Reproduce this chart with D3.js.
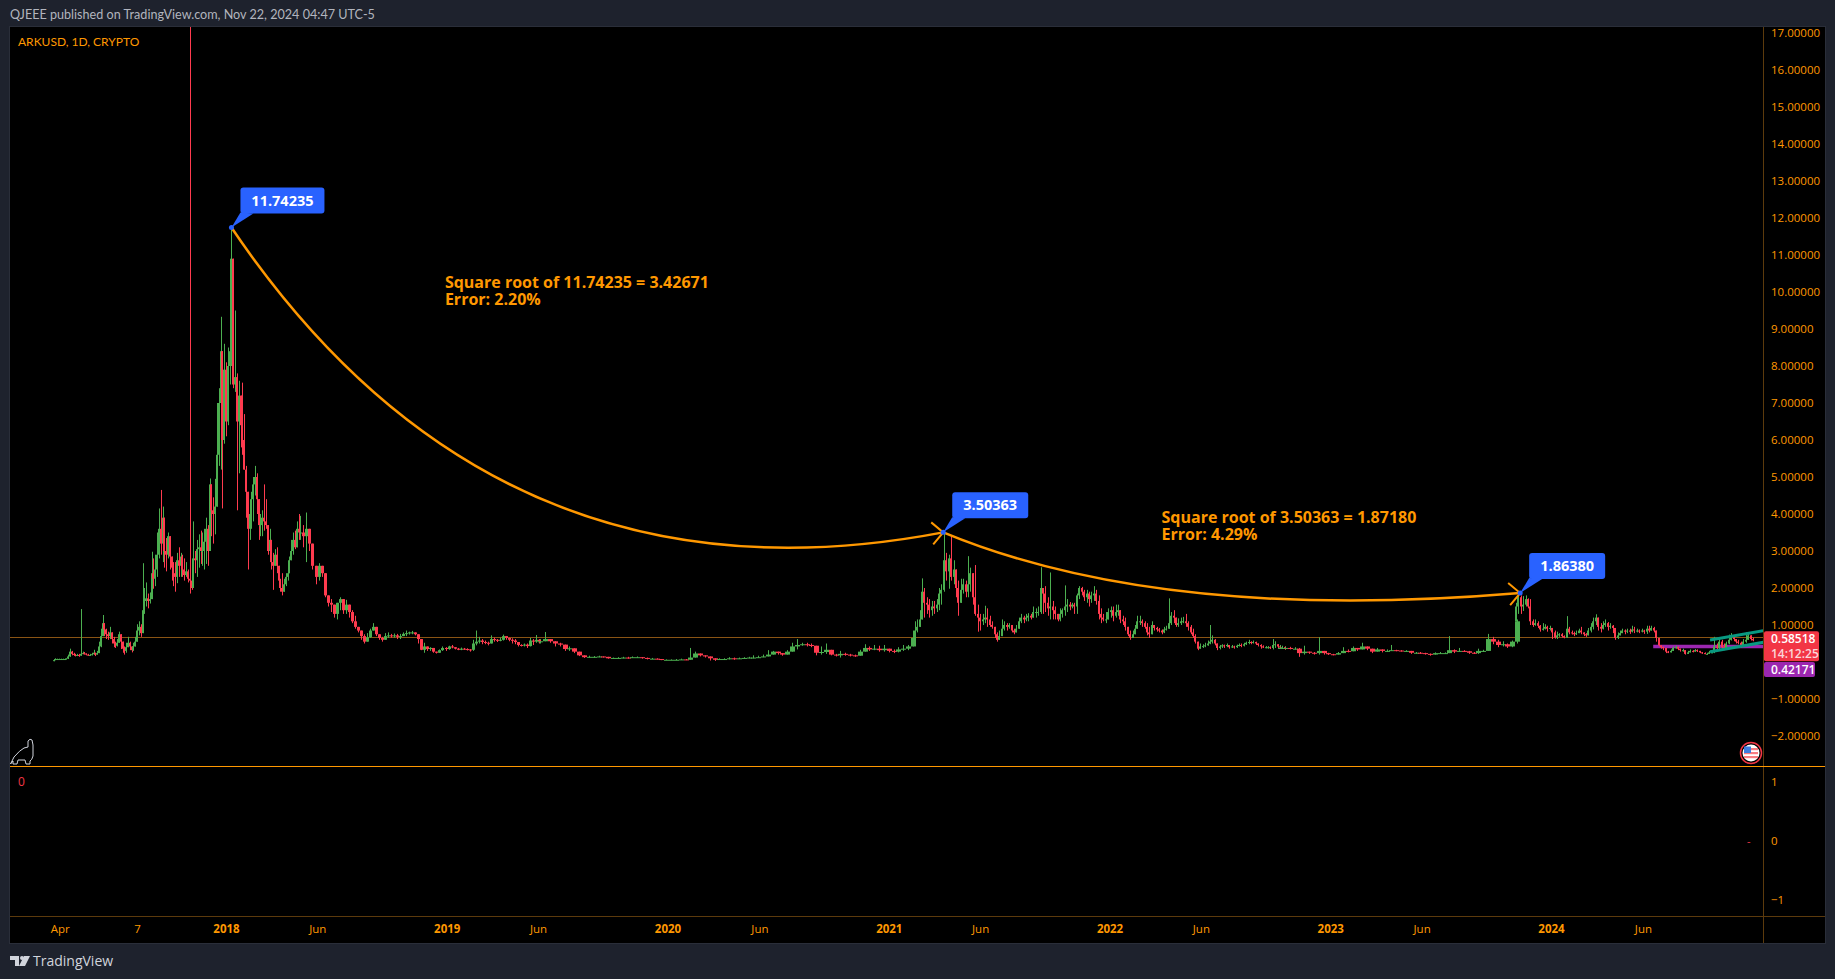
<!DOCTYPE html>
<html>
<head>
<meta charset="utf-8">
<title>ARKUSD</title>
<script src="https://cdn.jsdelivr.net/npm/d3@7"></script>
<style>
  html, body { margin: 0; padding: 0; background: #1e222d; overflow: hidden; }
  text { font-family: "Open Sans", "Noto Sans", sans-serif; }
</style>
</head>
<body>
<script>
// each row is [close, high, low]; open is the close before it
var rows2017 = [
[.05,.08,.02],[.08,.10,.05],[.08,.09,.07],[.08,.09,.07],[.08,.09,.07],[.08,.09,.07],[.08,.09,.07],[.09,.10,.08],[.15,.20,.08],[.28,.36,.14],
[.22,.30,.18],[.20,.25,.17],[.18,.22,.15],[.19,.22,.16],[.17,.22,.14],[.22,1.43,.17],[.24,.28,.21],[.23,.27,.20],[.20,.23,.18],[.19,.22,.17],
[.19,.22,.17],[.21,.25,.18],[.25,.33,.20],[.20,.24,.16],[.24,.30,.20],[.42,.55,.26],[.70,.90,.40],[1.05,1.27,.80],[.88,1.02,.70],[.75,.90,.62],
[.70,.82,.60],[.80,.95,.62],[.62,.78,.50],[.50,.68,.40],[.44,.55,.38],[.52,.62,.42],[.75,.82,.55],[.55,.72,.35],[.36,.52,.25],[.30,.42,.20],
[.40,.52,.25],[.52,.68,.40],[.42,.55,.32],[.32,.42,.26],[.42,.52,.30],[.55,.68,.42],[.85,1.02,.55],[.95,1.10,.72],[.78,1.02,.68],[1.4,2.67,.85],
[1.65,2.0,1.3],[1.72,2.15,1.5],[1.65,1.85,1.45],[1.7,1.88,1.58],[2.4,2.98,1.7],[2.25,2.8,1.98],[2.5,2.9,2.05],[2.9,3.5,2.3],[3.6,4.15,2.8],[3.2,4.65,2.9],
[3.9,4.2,2.7],[3.0,3.55,2.55],[2.9,3.35,2.45],[3.4,3.5,2.8],[2.85,3.15,2.5],[2.55,2.85,2.2],[2.4,2.7,2.05],[2.3,2.7,1.9],[2.75,2.95,2.13],[2.6,3.1,2.3],
[2.85,2.95,2.3],[2.5,2.9,2.3],[2.35,2.8,2.2],[2.45,2.7,2.3],[2.25,2.5,2.15],[2.2,20,1.85],[2.0,2.5,1.95],[2.8,3.8,2.1],[2.75,3.0,2.4],[3.05,3.3,2.3],
[3.1,3.45,2.55],[3.0,3.55,2.65],[3.0,3.5,2.6],[3.25,3.6,2.5],[3.6,3.9,2.65],[3.0,3.7,2.6],[4.8,4.96,3.8],[4.1,4.75,3.4],[4.0,4.45,3.2],[4.2,4.95,3.45],
[5.6,7.0,5.0],[7.0,7.4,5.3],[8.4,9.33,5.2],[6.0,8.0,4.15],[7.9,8.6,5.9],[6.5,8.1,6.1],[8.0,8.5,6.4],[8.4,8.6,7.5],[10.9,11.74,8.0],[7.5,10.5,7.4],
[7.7,9.5,7.3],[6.5,7.8,4.1],[7.2,7.6,5.1],[6.4,7.2,5.8],[6.0,7.55,5.6],[5.2,6.7,5.2],[4.6,5.3,3.9],[3.6,4.3,2.5],[4.0,4.35,3.3],[4.4,4.6,3.6],
[4.8,5.0,3.8],[5.0,5.3,4.5],[4.4,5.1,4.0],[3.7,4.3,3.3],[3.7,4.0,3.4],[3.9,4.1,3.4],[3.8,4.8,3.55],[3.7,4.4,3.6],[3.0,3.7,2.9],[3.3,3.6,2.85],
[2.7,3.1,2.5],[2.6,2.95,1.95],[2.9,3.05,2.65],[2.6,3.1,2.4],[2.2,2.6,2.05],[2.0,2.25,1.9],[1.9,2.4,1.8],[2.1,2.25,1.95],[2.3,2.4,2.05],[2.4,2.6,2.2],
[2.75,2.85,2.4],[3.0,3.3,2.8],[3.3,3.5,2.9],[3.1,3.55,3.05],[3.6,3.8,3.3],[3.5,4.0,3.3]
];
var rows2018 = [
[3.5,3.95,3.3],[3.4,3.7,3.1],[3.6,4.04,2.7],[3.2,3.5,3.0],[2.6,3.0,2.5],[2.3,2.6,2.1],[2.6,2.67,2.2],[2.4,2.6,2.3],[1.8,2.2,1.75],[1.6,1.8,1.5],
[1.55,1.7,1.35],[1.3,1.45,1.2],[1.6,1.6,1.15],[1.7,1.75,1.4],[1.4,1.55,1.3],[1.55,1.68,1.3],[1.35,1.5,1.2],[1.1,1.4,1.05],[.95,1.25,.9],[.85,.95,.8],
[.7,.85,.6],[.55,.75,.5],[.67,.78,.55],[.85,.9,.65],[.95,1.05,.85],[.75,.95,.7],[.65,.72,.6],[.6,.68,.55],[.7,.78,.62],[.72,.8,.65],
[.7,.76,.66],[.72,.77,.66],[.68,.76,.62],[.7,.76,.62],[.76,.8,.7],[.78,.85,.7],[.8,.82,.74],[.8,.84,.75],[.75,.8,.72],[.62,.72,.5],
[.33,.5,.32],[.42,.52,.25],[.35,.42,.3],[.38,.4,.3],[.28,.33,.25],[.25,.28,.23],[.32,.34,.26],[.38,.42,.3],[.35,.4,.3],[.42,.44,.33],
[.4,.46,.37],[.36,.4,.34],[.33,.38,.32],[.36,.39,.32],[.35,.38,.33],[.34,.37,.31],[.33,.35,.28],[.5,.6,.3],[.55,.85,.45],[.58,.68,.5],
[.54,.62,.48],[.52,.58,.48],[.5,.55,.45],[.62,.72,.5],[.6,.66,.55],[.58,.62,.54],[.6,.66,.56],[.7,.74,.58],[.65,.7,.6],[.6,.66,.56],
[.58,.64,.5],[.54,.62,.48],[.46,.52,.42],[.45,.48,.42],[.47,.5,.42],[.43,.5,.38],[.58,.65,.42],[.55,.62,.46],[.6,.73,.52],[.56,.62,.5]
];
var rows2019 = [
[.56,.62,.5],[.62,.81,.58],[.56,.6,.52],[.5,.56,.42],[.47,.52,.42],[.35,.44,.3],[.37,.42,.3],[.28,.35,.24],[.18,.24,.16],[.13,.17,.11],
[.14,.17,.12],[.14,.16,.12],[.15,.17,.13],[.14,.15,.12],[.1,.13,.09],[.11,.12,.09],[.11,.13,.1],[.12,.14,.1],[.11,.14,.09],[.13,.15,.11],
[.13,.15,.11],[.11,.13,.09],[.09,.12,.07],[.09,.11,.08],[.08,.1,.07],[.06,.07,.05],[.06,.07,.05],[.06,.07,.05],[.06,.08,.05],[.07,.09,.06],
[.06,.08,.05],[.12,.38,.1],[.23,.28,.18],[.18,.23,.15],[.15,.18,.12],[.1,.15,.04],[.06,.08,.03],[.08,.1,.06],[.08,.1,.06],[.1,.13,.07],
[.09,.12,.06],[.1,.12,.08],[.11,.13,.09],[.12,.14,.1],[.12,.18,.1],[.13,.17,.11],[.15,.2,.13],[.2,.32,.15],[.28,.3,.22],[.24,.27,.2],
[.2,.24,.17],[.28,.32,.2],[.42,.52,.3],[.46,.62,.34],[.48,.52,.44],[.46,.52,.42],[.44,.5,.4],[.25,.38,.18],[.27,.42,.2],[.33,.5,.22],
[.2,.25,.18],[.18,.22,.15],[.22,.3,.12],[.2,.25,.17],[.18,.22,.15],[.17,.2,.14],[.28,.33,.2],[.38,.48,.28],[.34,.42,.3],[.36,.46,.32],
[.32,.44,.28],[.36,.46,.28],[.3,.36,.26],[.28,.34,.24],[.34,.4,.26],[.36,.46,.3],[.42,.46,.32],[.65,.85,.42]
];
var rows2021 = [
[.85,1.1,.65],[.95,1.15,.8],[1.15,1.4,1.0],[1.9,2.26,1.15],[1.6,2.0,1.2],[1.55,1.75,1.3],[1.4,1.7,1.2],[1.5,1.65,1.25],[1.45,1.65,1.3],[1.55,1.7,1.35],
[1.85,2.0,1.4],[1.95,2.1,1.55],[2.75,3.5,1.9],[2.45,2.95,2.2],[2.8,2.9,1.98],[2.3,3.43,2.2],[2.5,2.75,2.1],[2.0,2.5,1.75],[1.6,2.2,1.25],[1.95,2.25,1.6],
[2.1,2.25,1.85],[1.9,2.2,1.75],[2.1,2.86,1.75],[2.4,2.55,1.9],[1.75,2.4,1.55],[1.3,2.62,1.25],[1.2,1.55,.82],[1.1,1.3,.85],[1.15,1.3,1.0],[1.2,1.52,1.05],
[1.15,1.45,.95],[1.0,1.25,.95],[.95,1.1,.9],[.75,.95,.65],[.6,.8,.55],[.7,.85,.62],[.9,1.15,.75],[1.0,1.1,.85],[.95,1.05,.85],[1.0,1.05,.9],
[.85,.95,.8],[.8,.9,.75],[.9,1.0,.82],[1.1,1.2,.95],[1.2,1.3,1.05],[1.15,1.25,1.05],[1.2,1.3,1.1],[1.25,1.32,1.1],[1.2,1.3,1.15],[1.35,1.5,1.2],
[1.35,1.45,1.2],[1.35,1.5,1.25],[2.0,2.56,1.3],[1.85,2.0,1.3],[1.6,2.05,1.35],[1.45,1.75,1.25],[1.5,2.42,1.15],[1.4,1.65,1.15],[1.3,1.5,1.15],[1.15,1.3,1.1],
[1.3,1.45,1.1],[1.4,1.45,1.2],[1.5,2.07,1.25],[1.55,1.7,1.35],[1.5,1.62,1.4],[1.55,1.6,1.45],[1.5,1.6,1.3],[1.8,1.85,1.3],[2.0,2.05,1.7],[1.9,2.03,1.8],
[1.75,1.95,1.65],[1.85,1.95,1.6],[1.7,1.9,1.5],[1.8,1.9,1.6],[1.85,2.05,1.65],[1.65,1.95,1.55],[1.3,1.8,1.15],[1.2,1.45,1.05],[1.15,1.3,1.1],[1.15,1.35,1.05],
[1.35,1.45,1.15],[1.4,1.5,1.2],[1.25,1.5,1.1],[1.35,1.55,1.2],[1.4,1.55,1.25],[1.15,1.4,1.05],[1.1,1.25,1.0],[.95,1.2,.85],[.75,.95,.7],[.65,.85,.6],
[.75,.85,.65],[.9,1.0,.8],[1.1,1.25,.9],[1.1,1.25,1.0],[1.05,1.15,.95],[.95,1.1,.9],[.8,1.05,.72],[.75,.95,.65],[1.0,1.1,.75],[.92,1.0,.85],
[.88,.95,.82],[.85,.92,.8],[.8,.88,.75],[.88,.95,.78],[.9,.98,.85],[1.05,1.72,.9],[1.25,1.35,1.0],[1.2,1.4,1.05],[1.0,1.2,.95],[1.05,1.18,.95],
[1.1,1.2,1.0],[1.1,1.22,1.05],[1.05,1.3,.95],[.95,1.1,.85],[.8,1.0,.75],[.7,.9,.65],[.55,.75,.5],[.36,.55,.32],[.42,.5,.36],[.43,.48,.38],
[.45,.52,.4],[.5,.58,.44],[.55,1.0,.48],[.6,.72,.5],[.5,.62,.45],[.38,.5,.32],[.42,.46,.34],[.45,.48,.38],[.43,.47,.38],[.46,.5,.4],
[.4,.46,.36],[.42,.46,.38],[.4,.44,.36],[.44,.47,.38],[.46,.5,.42],[.44,.5,.4],[.48,.52,.42],[.52,.55,.46],[.54,.6,.48],[.52,.56,.48],
[.54,.58,.5],[.5,.55,.46],[.46,.5,.42],[.42,.48,.36],[.4,.45,.38],[.4,.43,.37],[.4,.43,.36],[.38,.42,.35],[.46,.62,.34],[.48,.56,.38],
[.42,.48,.38],[.4,.45,.36],[.4,.44,.36],[.36,.42,.33]
];
var rows2022 = [
[.38,.46,.36],[.38,.42,.35],[.36,.41,.34],[.36,.4,.34],[.24,.38,.14],[.28,.44,.2],[.25,.28,.22],[.24,.27,.2],[.3,.67,.2],[.24,.3,.2],
[.21,.25,.19],[.2,.22,.18],[.24,.27,.2],[.3,.4,.24],[.29,.34,.26],[.38,.42,.3],[.34,.38,.3],[.42,.52,.36],[.36,.42,.32],[.28,.34,.24],
[.34,.38,.3],[.3,.34,.26],[.3,.34,.27],[.32,.46,.3],[.31,.33,.29],[.3,.32,.28],[.3,.32,.28],[.25,.3,.22],[.25,.27,.23],[.24,.27,.22],
[.22,.25,.2],[.2,.23,.17],[.24,.26,.2],[.24,.27,.22],[.24,.26,.22],[.32,.7,.25],[.28,.34,.24],[.3,.38,.28],[.29,.32,.27],[.25,.3,.22],
[.24,.27,.22],[.3,.36,.22],[.3,.33,.27],[.62,.76,.38],[.55,.68,.48],[.46,.6,.4],[.48,.56,.42],[.42,.5,.38],[.55,.58,.4],[1.1,1.15,.5]
];
var rows2023 = [
[1.5,1.6,1.1],[1.75,1.8638,1.3],[1.5,1.8,1.3],[1.55,1.78,1.38],[1.7,1.8,1.5],[1.5,1.72,1.45],[1.1,1.7,1.0],[1.0,1.15,.95],[1.05,1.15,.98],[.98,1.1,.92],
[.88,1.0,.82],[.9,1.05,.85],[.95,1.02,.88],[.9,.98,.82],[.92,.98,.85],[.8,.9,.62],[.66,.85,.63],[.72,.82,.62],[.75,.78,.68],[.7,.78,.66],
[.66,.72,.64],[.9,1.24,.65],[.8,.95,.75],[.78,.85,.74],[.75,.82,.7],[.78,.85,.73],[.85,.9,.78],[.8,.95,.75],[.75,.8,.7],[.72,.78,.68],
[.85,.92,.72],[.95,1.05,.8],[1.1,1.2,.88],[1.2,1.29,1.0],[.95,1.1,.85],[.9,1.05,.8],[1.0,1.1,.88],[1.05,1.15,.95],[.95,1.08,.85],[.98,1.05,.9],
[.92,1.0,.78],[.65,.9,.6],[.72,.8,.62],[.78,.85,.72],[.85,.9,.78],[.82,.88,.75],[.85,.9,.78],[.82,.9,.76],[.88,.98,.8],[.85,.95,.78],
[.85,.9,.8],[.84,.88,.78],[.85,.9,.8],[.82,.87,.76],[.9,.98,.76],[.85,.98,.8],[.92,.98,.85],[.85,.95,.8],[.65,.85,.55],[.45,.62,.42],
[.4,.45,.36],[.38,.42,.32],[.28,.38,.24],[.26,.3,.24],[.3,.34,.26],[.38,.42,.3],[.4,.44,.36],[.36,.42,.32],[.32,.36,.28],[.32,.36,.28],
[.22,.3,.2],[.26,.3,.24],[.3,.34,.26],[.28,.32,.26],[.32,.35,.28],[.3,.34,.27],[.26,.3,.24],[.24,.27,.22],[.22,.26,.21],[.22,.25,.2],
[.26,.3,.23],[.26,.29,.24],[.42,.68,.24],[.38,.5,.3],[.55,.62,.35],[.4,.6,.36],[.38,.5,.32],[.5,.55,.38],[.6,.74,.48],[.72,.78,.58],
[.62,.72,.56],[.55,.62,.5],[.52,.6,.48],[.42,.55,.38],[.55,.62,.42],[.6,.8,.52],[.72,.78,.6],[.62,.72,.58],[.58518,.66,.56]
];

var eraRows = [rows2017, rows2018, rows2019, rows2021, rows2022, rows2023];
var eraStarts = ["2017-03-22", "2018-05-04", "2019-06-05", "2021-02-13", "2022-10-10", "2023-11-04"];
var eraStepDays = [3, 5, 8, 4, 8, 4];

var priceTicks = [17,16,15,14,13,12,11,10,9,8,7,6,5,4,3,2,1,-1,-2];
var paneTicks = [1, 0, -1];
var timeTicks = ["2017-04-01","2017-08-07","2018-01-01","2018-06-01","2019-01-01","2019-06-01","2020-01-01","2020-06-01",
                 "2021-01-01","2021-06-01","2022-01-01","2022-06-01","2023-01-01","2023-06-01","2024-01-01","2024-06-01"];
var timeLabels = ["Apr","7","2018","Jun","2019","Jun","2020","Jun","2021","Jun","2022","Jun","2023","Jun","2024","Jun"];

var peakDates = ["2018-01-10", "2021-04-01", "2023-11-11"];
var peakPrices = [11.74235, 3.50363, 1.8638];
var arcStarts = [0, 1];
var arcBendDates = ["2019-03-22", "2022-03-29"];
var arcBendPrices = [1.19, 1.05];
var noteLines = [["Square root of 11.74235 = 3.42671", "Error: 2.20%"], ["Square root of 3.50363 = 1.87180", "Error: 4.29%"]];
var noteDates = ["2018-12-29", "2022-03-28"];
var notePrices = [10.12, 3.75];

var levelPrice = 0.667;
var lastPrice = 0.58518;
var supportPrice = 0.42171;
var supportStart = "2024-06-18";
var channelDates = ["2024-09-20", "2024-12-17"];
var channelUpper = [0.595, 0.846];
var channelLower = [0.278, 0.532];

var parseDay = d3.utcParse("%Y-%m-%d");
var orange = "#ff9800", green = "#4caf50", red = "#f23645", candleRed = "#ff3b4f", blue = "#2962ff";
var frameLeft = 10, frameRight = 1825, frameTop = 27, axisX = 1763, paneBottom = 766, lowerBottom = 916, frameBottom = 943;

var x = d3.scaleUtc().domain([parseDay("2018-01-01"), parseDay("2024-01-01")]).range([226, 1551]);
var y = d3.scaleLinear().domain([-2, 17]).range([736, 33]);
var yLower = d3.scaleLinear().domain([-1, 1]).range([900, 782]);

// flatten the eras into candles, open taken from the previous close
var candles = [];
var prevClose = null;
eraRows.forEach(function(rows, e) {
	rows.forEach(function(r, i) {
		var open = prevClose === null ? r[0] : prevClose;
		candles.push({
			date: d3.utcDay.offset(parseDay(eraStarts[e]), i * eraStepDays[e]),
			step: eraStepDays[e],
			open: open,
			close: r[0],
			high: Math.max(r[1], open, r[0]),
			low: Math.min(r[2], open, r[0])
		});
		prevClose = r[0];
	});
});

function bodyWidth(d) { return d.step < 5 ? 2 : d.step < 8 ? 3 : 5; }
function candleColour(d) { return d.close >= d.open ? green : candleRed; }

var svg = d3.select("body").append("svg").attr("width", 1835).attr("height", 979).style("display", "block");

svg.append("rect").attr("width", 1835).attr("height", 979).attr("fill", "#1e222d");
svg.append("rect")
		.attr("x", frameLeft - 0.5).attr("y", frameTop - 0.5)
		.attr("width", frameRight - frameLeft + 1).attr("height", frameBottom - frameTop + 1)
		.attr("fill", "#000").attr("stroke", "#2a2e39");

svg.append("defs").append("clipPath").attr("id", "price-pane")
	.append("rect").attr("x", frameLeft).attr("y", frameTop)
		.attr("width", axisX - frameLeft).attr("height", paneBottom - frameTop);

svg.append("text").attr("x", 10).attr("y", 19).attr("fill", "#b2b5be").attr("font-size", 12.6)
		.style("font-family", "Lato, sans-serif")
		.text("QJEEE published on TradingView.com, Nov 22, 2024 04:47 UTC-5");
svg.append("text").attr("x", 18).attr("y", 46).attr("fill", orange).attr("font-size", 12)
		.style("font-family", "Lato, sans-serif")
		.text("ARKUSD, 1D, CRYPTO");

var pane = svg.append("g").attr("clip-path", "url(#price-pane)");

// horizontal level, support line
pane.append("line").attr("x1", frameLeft).attr("x2", axisX)
		.attr("y1", Math.round(y(levelPrice)) + 0.5).attr("y2", Math.round(y(levelPrice)) + 0.5)
		.attr("stroke", "#8a5414").attr("stroke-width", 1);
pane.append("line").attr("x1", x(parseDay(supportStart))).attr("x2", axisX)
		.attr("y1", y(supportPrice)).attr("y2", y(supportPrice))
		.attr("stroke", "#9c27b0").attr("stroke-width", 3.5);

// candles, wicks snapped to the pixel grid
pane.selectAll("line.wick")
		.data(candles)
		.enter().append("line")
			.attr("class", "wick")
			.attr("x1", function(d){return Math.round(x(d.date)) + 0.5;})
			.attr("x2", function(d){return Math.round(x(d.date)) + 0.5;})
			.attr("y1", function(d){return y(d.high);})
			.attr("y2", function(d){return y(d.low);})
			.attr("stroke", candleColour)
			.attr("stroke-width", 1);

pane.selectAll("rect.body")
		.data(candles)
		.enter().append("rect")
			.attr("class", "body")
			.attr("x", function(d){return Math.round(x(d.date)) - Math.floor(bodyWidth(d) / 2);})
			.attr("width", bodyWidth)
			.attr("y", function(d){return y(Math.max(d.open, d.close));})
			.attr("height", function(d){return Math.max(1, Math.abs(y(d.open) - y(d.close)));})
			.attr("fill", candleColour);

// channel
[channelUpper, channelLower].forEach(function(band) {
	pane.append("line")
			.attr("x1", x(parseDay(channelDates[0]))).attr("x2", x(parseDay(channelDates[1])))
			.attr("y1", y(band[0])).attr("y2", y(band[1]))
			.attr("stroke", "#089981").attr("stroke-width", 3);
});

// arcs between the peaks
arcStarts.forEach(function(s, i) {
	var p = d3.path();
	p.moveTo(x(parseDay(peakDates[s])), y(peakPrices[s]));
	p.quadraticCurveTo(x(parseDay(arcBendDates[i])), y(arcBendPrices[i]), x(parseDay(peakDates[s + 1])), y(peakPrices[s + 1]));
	pane.append("path").attr("d", p.toString()).attr("fill", "none").attr("stroke", orange).attr("stroke-width", 2.5);

	var ex = x(parseDay(peakDates[s + 1])), ey = y(peakPrices[s + 1]);
	pane.append("path")
			.attr("d", "M" + (ex - 12) + " " + (ey - 10) + "L" + ex + " " + ey + "L" + (ex - 10) + " " + (ey + 12))
			.attr("fill", "none").attr("stroke", orange).attr("stroke-width", 2);
});

// callouts on the peaks
peakDates.forEach(function(dd, i) {
	var px = x(parseDay(dd)), py = y(peakPrices[i]);
	var label = d3.format(".5f")(peakPrices[i]);
	var w = label.length > 7 ? 84 : 76;
	var g = svg.append("g").attr("transform", "translate(" + px + "," + py + ")");
	g.append("path").attr("d", "M0 0L9 -15L22 -14Z").attr("fill", blue);
	g.append("circle").attr("r", 2.5).attr("fill", blue);
	g.append("rect").attr("x", 9).attr("y", -40).attr("width", w).attr("height", 26).attr("rx", 3).attr("fill", blue);
	g.append("text").attr("x", 9 + w / 2).attr("y", -27).attr("dy", "0.35em").attr("text-anchor", "middle")
			.attr("fill", "#fff").attr("font-size", 14.5).attr("font-weight", 700).text(label);
});

// notes
noteLines.forEach(function(lines, i) {
	svg.append("text").selectAll("tspan")
			.data(lines)
			.enter().append("tspan")
			.attr("x", x(parseDay(noteDates[i])))
			.attr("y", function(d, j){return y(notePrices[i]) + j * 17;})
			.attr("fill", orange).attr("font-size", 16).attr("font-weight", 700)
			.text(function(d){return d;});
});

// axes
var rightAxis = svg.append("g").attr("transform", "translate(" + axisX + ",0)")
		.call(d3.axisRight(y).tickValues(priceTicks).tickFormat(d3.format(".5f")).tickSize(0).tickPadding(8));
var lowerAxis = svg.append("g").attr("transform", "translate(" + axisX + ",0)")
		.call(d3.axisRight(yLower).tickValues(paneTicks).tickFormat(d3.format("d")).tickSize(0).tickPadding(8));
var timeAxis = svg.append("g").attr("transform", "translate(0," + lowerBottom + ")")
		.call(d3.axisBottom(x).tickValues(timeTicks.map(parseDay))
			.tickFormat(function(d, i){return timeLabels[i];}).tickSize(0).tickPadding(9));

[rightAxis, lowerAxis, timeAxis].forEach(function(a) {
	a.select(".domain").remove();
	a.selectAll("text").attr("fill", orange).attr("font-size", 11.5)
			.style("font-family", "'Open Sans', sans-serif");
});
timeAxis.selectAll("text").attr("font-weight", function(d, i){return /^\d{4}$/.test(timeLabels[i]) ? 700 : 400;});

// frame lines between panes
svg.append("line").attr("x1", axisX + 0.5).attr("x2", axisX + 0.5).attr("y1", frameTop).attr("y2", frameBottom)
		.attr("stroke", "#5c3a0c");
svg.append("line").attr("x1", frameLeft).attr("x2", frameRight).attr("y1", paneBottom + 0.5).attr("y2", paneBottom + 0.5)
		.attr("stroke", orange).attr("stroke-width", 1);
svg.append("line").attr("x1", frameLeft).attr("x2", frameRight).attr("y1", lowerBottom + 0.5).attr("y2", lowerBottom + 0.5)
		.attr("stroke", "#5c3a0c");

// price tags
function tag(top, h, w, fill, lines) {
	svg.append("rect").attr("x", axisX + 1).attr("y", top).attr("width", w).attr("height", h).attr("rx", 2).attr("fill", fill);
	lines.forEach(function(l, i) {
		svg.append("text").attr("x", axisX + 8).attr("y", top + (h / lines.length) * (i + 0.5)).attr("dy", "0.35em")
				.attr("fill", i ? "#fbd5d8" : "#fff").attr("font-size", 12).attr("font-weight", 600).text(l);
	});
}
tag(y(lastPrice) - 9, 30, 55, red, [d3.format(".5f")(lastPrice), "14:12:25"]);
tag(662, 15, 51, "#9c27b0", [d3.format(".5f")(supportPrice)]);

// lower pane labels
svg.append("text").attr("x", 18).attr("y", 786).attr("fill", red).attr("font-size", 12).text("0");
svg.append("text").attr("x", 1747).attr("y", yLower(0)).attr("dy", "0.35em").attr("fill", red).attr("font-size", 11).text("-");

// dinosaur mark
svg.append("path")
		.attr("d", "M10.5 764L14 757Q20 750 24 748L28 747L28 741Q30 738 32 740L33 745L33 756Q32 760 30 761L30 764L26 764L25 760L18 760L17 764L13 764L13 761Z")
		.attr("fill", "#000").attr("stroke", "#d1d4dc").attr("stroke-width", 1);

// flag badge
var flag = svg.append("g").attr("transform", "translate(1751,753)");
flag.append("circle").attr("r", 10.5).attr("fill", "#000").attr("stroke", red).attr("stroke-width", 1.5);
flag.append("circle").attr("r", 8.5).attr("fill", "#fff");
flag.selectAll("rect").data([-5, -1, 3]).enter().append("rect")
		.attr("x", -7).attr("y", function(d){return d;}).attr("width", 14).attr("height", 2.2).attr("fill", "#f77c80");
flag.append("rect").attr("x", -7).attr("y", -6.5).attr("width", 7).attr("height", 6.5).attr("fill", "#3d7de0");

// footer
svg.append("path").attr("d", "M10 956H19V966H15V960H10ZM24 956H30L25 966H19Z").attr("fill", "#d1d4dc");
svg.append("circle").attr("cx", 22).attr("cy", 958).attr("r", 2).attr("fill", "#d1d4dc");
svg.append("text").attr("x", 33).attr("y", 966).attr("fill", "#d1d4dc").attr("font-size", 14).text("TradingView");
</script>
</body>
</html>
